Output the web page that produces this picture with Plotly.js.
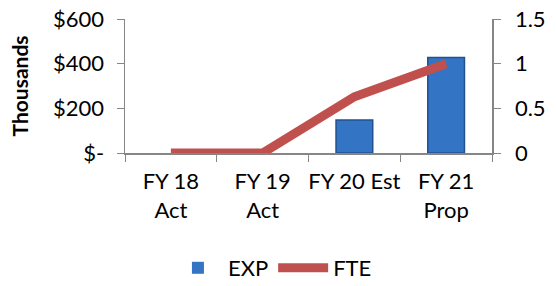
<!DOCTYPE html>
<html><head><meta charset="utf-8">
<script src="https://cdn.plot.ly/plotly-3.0.1.min.js"></script>
<style>html,body{margin:0;padding:0;background:#fff}</style>
</head><body><div id="chart" style="width:556px;height:286px"></div>
<script>
const categories = ["FY 18<br>Act", "FY 19<br>Act", "FY 20 Est", "FY 21<br>Prop"];
const expValues = [0, 0, 148, 428];
const fteValues = [0, 0, 0.63, 1.0];
const leftTickVals = [0, 200, 400, 600];
const leftTickText = ["$-", "$200", "$400", "$600"];
const rightTickVals = [0, 0.5, 1, 1.5];
const rightTickText = ["0", "0.5", "1", "1.5"];

const font = {family: "Lato, 'Open Sans', sans-serif", size: 22, color: "#000"};
const data = [
  {type: "bar", name: "EXP", x: categories, y: expValues, width: 0.4,
   marker: {color: "#3474c4", line: {color: "#21528f", width: expValues.map(v => v > 0 ? 1.5 : 0)}}, yaxis: "y"},
  {type: "scatter", mode: "lines", name: "FTE", x: categories, y: fteValues,
   line: {color: "#c0504d", width: 9}, yaxis: "y2"}
];
const layout = {
  width: 556, height: 286,
  margin: {l: 125, r: 64, t: 19, b: 133},
  paper_bgcolor: "#fff", plot_bgcolor: "#fff",
  font: font,
  showlegend: true,
  legend: {orientation: "h", x: 0.49, xref: "container", xanchor: "center",
           y: 0.063, yref: "container", yanchor: "middle",
           font: font, itemwidth: 50, traceorder: "normal"},
  xaxis: {type: "category", tickson: "boundaries", ticks: "outside", ticklen: 7,
          tickangle: 0, automargin: false, ticklabelstandoff: 8,
          tickcolor: "#868686", showline: true, linecolor: "#868686", linewidth: 1.5,
          showgrid: false, zeroline: false, tickfont: font, fixedrange: true},
  yaxis: {range: [0, 600], tickvals: leftTickVals, ticktext: leftTickText, automargin: false,
          ticks: "outside", ticklen: 7, tickcolor: "#868686", showline: true,
          ticklabelstandoff: 8,
          linecolor: "#868686", linewidth: 1.5, showgrid: false, zeroline: false,
          tickfont: font, title: {text: "Thousands", font: {family: font.family, size: 21, color: "#000", weight: "bold"}, standoff: 18}},
  yaxis2: {range: [0, 1.5], overlaying: "y", side: "right", tickvals: rightTickVals,
           ticktext: rightTickText, ticks: "outside", ticklen: 7, tickcolor: "#868686",
           automargin: false, ticklabelstandoff: 10,
           showline: true, linecolor: "#868686", linewidth: 1.5, showgrid: false,
           zeroline: false, tickfont: font}
};
Plotly.newPlot("chart", data, layout, {displayModeBar: false, staticPlot: true});
</script></body></html>
